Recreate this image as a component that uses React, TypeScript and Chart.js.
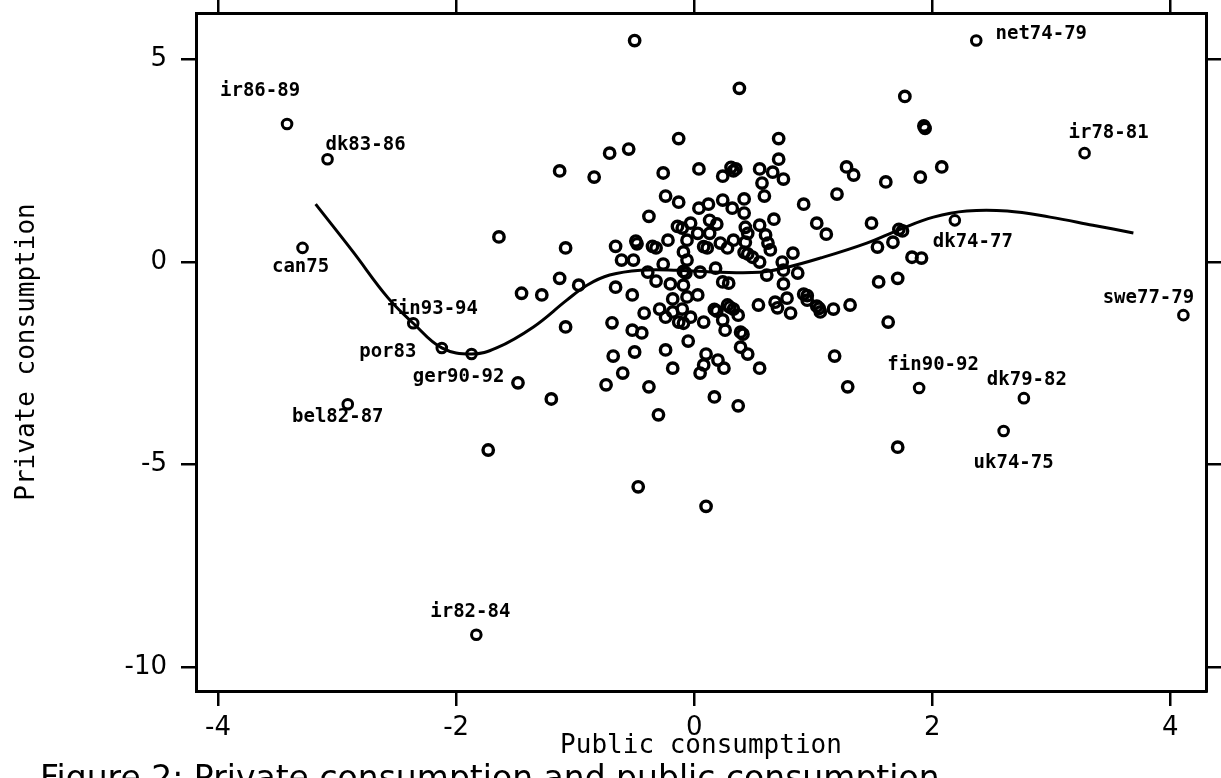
import React, { useEffect, useRef } from "react";
import { Chart, registerables } from "chart.js";

Chart.register(...registerables);

// ---- axis ticks ----
const xTicks = [-4, -2, 0, 2, 4];
const yTicks = [-10, -5, 0, 5];

// ---- unlabelled country-period observations ----
const pubX = [
  -0.5, 0.38, 1.77, 1.93, 1.94, -0.13, 0.71, -0.55, -0.71, 0.71, -1.13, -0.26, 0.04, 0.31, 0.35, 0.33, 0.24, 0.55, 0.66,
  0.75, 0.57, -0.84, 1.28, 1.34, 1.61, 1.9, 2.08, 0.59, -0.24, -0.13, 1.2,
  0.92, 0.04, 0.12, 0.24, 0.42, 0.32, 0.42, -0.38, 0.67, 1.03, 1.11, 1.49, -0.14, -0.1, -0.03, 0.13, 0.19, 0.03, 0.13,
  0.55, 0.6, 0.62, 0.64, 0.43, 0.45, 0.43, 0.33, 0.28, 0.22, 0.08, 0.11, -0.06, -0.09, -0.06, -0.22, -0.35, -0.32, -0.49,
  -0.48, -0.66, -1.08, -1.64, -0.61, -0.51, 0.42, 0.45, 0.49, 0.55, 0.83, 1.72, 1.75, 1.67, 1.54, 1.83, 1.91,
  -0.26, -0.39, 0.74, 0.75, 0.87, 0.61, 0.05, -0.09, -0.07, 0.18, -1.13, -0.97, -0.66, -0.32, -0.2, -0.09, 0.24, 0.29,
  0.75, 1.55, 1.71, -1.45, -1.28, -0.52, 0.03, -0.06, -0.18, 0.78, 0.92, 0.95, 0.95,
  0.3, 0.33, 0.28, 0.24, 0.26, 0.37, 0.54, 0.68, 0.7, 0.81, 1.03, 1.05, 1.06, 1.17, 1.31, 1.63, -1.08, -0.69, -0.42,
  -0.29, -0.24, -0.52, -0.44, -0.18, -0.1, -0.03, -0.13, -0.09, 0.08, 0.17, 0.19, 0.39, 0.41,
  -0.05, -0.24, -0.5, -0.68, 0.39, 0.45, 0.1, 0.2, 0.25, 0.08, 0.05, -0.18, -0.6, 0.55, 1.18, -0.74, -0.38, -1.48, 1.29,
  0.17, -1.2, 0.37, -0.3,
  1.71, -1.73, -0.47, 0.1,
];
const privY = [
  5.47, 4.29, 4.09, 3.36, 3.3, 3.05, 3.05, 2.79, 2.69, 2.54, 2.25, 2.2, 2.3, 2.34, 2.3, 2.25, 2.12, 2.3, 2.22,
  2.05, 1.95, 2.1, 2.35, 2.15, 1.98, 2.1, 2.35, 1.63, 1.63, 1.48, 1.68,
  1.43, 1.33, 1.43, 1.53, 1.56, 1.33, 1.21, 1.13, 1.06, 0.96, 0.69, 0.96, 0.88, 0.84, 0.96, 1.03, 0.94, 0.71, 0.71,
  0.91, 0.67, 0.47, 0.3, 0.86, 0.71, 0.49, 0.54, 0.35, 0.47, 0.38, 0.35, 0.54, 0.25, 0.05, 0.54, 0.39, 0.35, 0.52,
  0.45, 0.39, 0.35, 0.62, 0.05, 0.05, 0.24, 0.2, 0.12, 0.0, 0.22, 0.81, 0.77, 0.49, 0.37, 0.12, 0.1,
  -0.05, -0.25, 0.0, -0.2, -0.27, -0.32, -0.25, -0.23, -0.27, -0.15, -0.4, -0.57, -0.62, -0.47, -0.54, -0.57, -0.49, -0.52,
  -0.54, -0.49, -0.4, -0.77, -0.81, -0.81, -0.81, -0.86, -0.91, -0.89, -0.79, -0.83, -0.94,
  -1.11, -1.16, -1.06, -1.43, -1.68, -1.31, -1.06, -0.99, -1.13, -1.26, -1.09, -1.14, -1.23, -1.16, -1.06, -1.48, -1.6, -1.5, -1.26,
  -1.16, -1.36, -1.68, -1.75, -1.23, -1.16, -1.36, -1.48, -1.51, -1.48, -1.17, -1.21, -1.73, -1.78,
  -1.95, -2.17, -2.22, -2.32, -2.1, -2.27, -2.27, -2.42, -2.62, -2.54, -2.74, -2.62, -2.74, -2.62, -2.32, -3.03, -3.08, -2.98, -3.08,
  -3.33, -3.38, -3.55, -3.77,
  -4.57, -4.64, -5.55, -6.03,
];

// ---- labelled observations ----
const outlierNames = [
  "ir86-89", "dk83-86", "can75", "fin93-94", "por83", "ger90-92", "bel82-87", "ir82-84",
  "net74-79", "ir78-81", "dk74-77", "swe77-79", "fin90-92", "dk79-82", "uk74-75",
];
const outlierX = [-3.42, -3.08, -3.29, -2.36, -2.12, -1.87, -2.91, -1.83, 2.37, 3.28, 2.19, 4.11, 1.89, 2.77, 2.6];
const outlierY = [3.41, 2.54, 0.35, -1.51, -2.12, -2.27, -3.51, -9.2, 5.47, 2.69, 1.03, -1.31, -3.11, -3.36, -4.17];

// ---- smoother ----
const smoothX = [
  -3.18, -2.87, -2.57, -2.36, -2.12, -1.87, -1.66, -1.35, -1.07, -0.9, -0.71, -0.45, -0.14, 0.22, 0.55, 0.75, 1.06,
  1.45, 1.73, 2.01, 2.29, 2.63, 2.99, 3.35, 3.69,
];
const smoothY = [
  1.43, 0.27, -0.89, -1.51, -2.12, -2.27, -2.12, -1.6, -0.94, -0.57, -0.32, -0.2, -0.2, -0.25, -0.25, -0.15, 0.1,
  0.47, 0.81, 1.11, 1.26, 1.26, 1.11, 0.91, 0.72,
];

// label placement (pixel offsets of label centre from its point) - styling only
const labelOffsets: Record<string, [number, number]> = {
  "ir86-89": [-27, -33],
  "dk83-86": [38, -14],
  can75: [-2, 19],
  "fin93-94": [19, -14],
  por83: [-54, 4],
  "ger90-92": [-13, 23],
  "bel82-87": [-10, 13],
  "ir82-84": [-6, -23],
  "net74-79": [65, -6],
  "ir78-81": [24, -20],
  "dk74-77": [18, 22],
  "swe77-79": [-35, -17],
  "fin90-92": [14, -23],
  "dk79-82": [3, -18],
  "uk74-75": [10, 32],
};

const captionText = "Figure 2: Private consumption and public consumption";

const W = 1221;
const H = 778;
const AREA = { left: 196, right: 1206, top: 13, bottom: 691 };

export default function App() {
  const ref = useRef<HTMLCanvasElement | null>(null);

  useEffect(() => {
    if (!ref.current) return;

    const labelPlugin = {
      id: "outlierLabels",
      afterDatasetsDraw(chart: any) {
        const meta = chart.getDatasetMeta(1);
        const c = chart.ctx;
        c.save();
        c.font = 'bold 19px "DejaVu Sans Mono"';
        c.fillStyle = "#000";
        c.textAlign = "center";
        c.textBaseline = "middle";
        meta.data.forEach((el: any, i: number) => {
          const name = outlierNames[i];
          const off = labelOffsets[name] || [0, -18];
          c.fillText(name, el.x + off[0], el.y + off[1]);
        });
        c.restore();
      },
    };

    const captionPlugin = {
      id: "caption",
      afterDraw(chart: any) {
        const c = chart.ctx;
        c.save();
        c.font = '33px "DejaVu Sans"';
        c.fillStyle = "#000";
        c.textAlign = "left";
        c.textBaseline = "alphabetic";
        c.fillText(captionText, 40, 789);
        c.restore();
      },
    };

    const tickFont = { family: '"DejaVu Sans", sans-serif', size: 26 };
    const titleFont = { family: '"DejaVu Sans Mono", monospace', size: 26 };
    const gridCommon = {
      drawOnChartArea: false,
      drawTicks: true,
      color: "#000",
      lineWidth: 2.5,
    };
    const borderCommon = { display: true, width: 3, color: "#000" };

    const xMin = -4.185;
    const xMax = 4.3;
    const yMin = -10.59;
    const yMax = 6.15;

    const chart = new Chart(ref.current, {
      type: "scatter",
      data: {
        datasets: [
          {
            data: pubX.map((x, i) => ({ x, y: privY[i] })),
            pointRadius: 5.2,
            borderWidth: 3.4,
            borderColor: "#000",
            backgroundColor: "rgba(0,0,0,0)",
            pointHoverRadius: 5.2,
            order: 2,
          },
          {
            data: outlierX.map((x, i) => ({ x, y: outlierY[i] })),
            pointRadius: 4.8,
            borderWidth: 3,
            borderColor: "#000",
            backgroundColor: "rgba(0,0,0,0)",
            order: 1,
          },
          {
            data: smoothX.map((x, i) => ({ x, y: smoothY[i] })),
            showLine: true,
            pointRadius: 0,
            borderColor: "#000",
            borderWidth: 3,
            tension: 0.4,
            fill: false,
            order: 0,
          },
        ],
      },
      options: {
        animation: false,
        responsive: false,
        maintainAspectRatio: false,
        events: [],
        layout: { padding: 0 },
        plugins: {
          legend: { display: false },
          tooltip: { enabled: false },
          title: { display: false },
        },
        scales: {
          x: {
            type: "linear",
            position: "bottom",
            min: xMin,
            max: xMax,
            afterBuildTicks: (s: any) => {
              s.ticks = xTicks.map((v) => ({ value: v }));
            },
            afterFit: (s: any) => {
              s.height = H - AREA.bottom;
              s.paddingLeft = 0;
              s.paddingRight = 0;
            },
            grid: { ...gridCommon, tickLength: 15 },
            border: borderCommon,
            ticks: {
              font: tickFont,
              color: "#000",
              padding: 7,
              maxRotation: 0,
              autoSkip: false,
              callback: (v: any) => String(v),
            },
            title: {
              display: true,
              text: "Public consumption",
              font: titleFont,
              color: "#000",
              padding: { top: 0, bottom: 16 },
            },
          },
          x2: {
            type: "linear",
            position: "top",
            min: xMin,
            max: xMax,
            afterBuildTicks: (s: any) => {
              s.ticks = xTicks.map((v) => ({ value: v }));
            },
            afterFit: (s: any) => {
              s.height = AREA.top;
              s.paddingLeft = 0;
              s.paddingRight = 0;
            },
            grid: { ...gridCommon, tickLength: 13 },
            border: borderCommon,
            ticks: { display: false, autoSkip: false },
          },
          y: {
            type: "linear",
            position: "left",
            min: yMin,
            max: yMax,
            afterBuildTicks: (s: any) => {
              s.ticks = yTicks.map((v) => ({ value: v }));
            },
            afterFit: (s: any) => {
              s.width = AREA.left;
              s.paddingTop = 0;
              s.paddingBottom = 0;
            },
            grid: { ...gridCommon, tickLength: 15 },
            border: borderCommon,
            ticks: {
              font: tickFont,
              color: "#000",
              padding: 14,
              autoSkip: false,
              callback: (v: any) => String(v),
            },
            title: {
              display: true,
              text: "Private consumption",
              font: titleFont,
              color: "#000",
              padding: { top: 12, bottom: 0 },
            },
          },
          y2: {
            type: "linear",
            position: "right",
            min: yMin,
            max: yMax,
            afterBuildTicks: (s: any) => {
              s.ticks = yTicks.map((v) => ({ value: v }));
            },
            afterFit: (s: any) => {
              s.width = W - AREA.right;
              s.paddingTop = 0;
              s.paddingBottom = 0;
            },
            grid: { ...gridCommon, tickLength: 15 },
            border: borderCommon,
            ticks: { display: false, autoSkip: false },
          },
        },
      } as any,
      plugins: [labelPlugin, captionPlugin],
    });

    return () => chart.destroy();
  }, []);

  return (
    <div style={{ position: "absolute", left: 0, top: 0, width: W, height: H, background: "#fff" }}>
      <canvas ref={ref} width={W} height={H} style={{ display: "block", width: W, height: H }} />
    </div>
  );
}
